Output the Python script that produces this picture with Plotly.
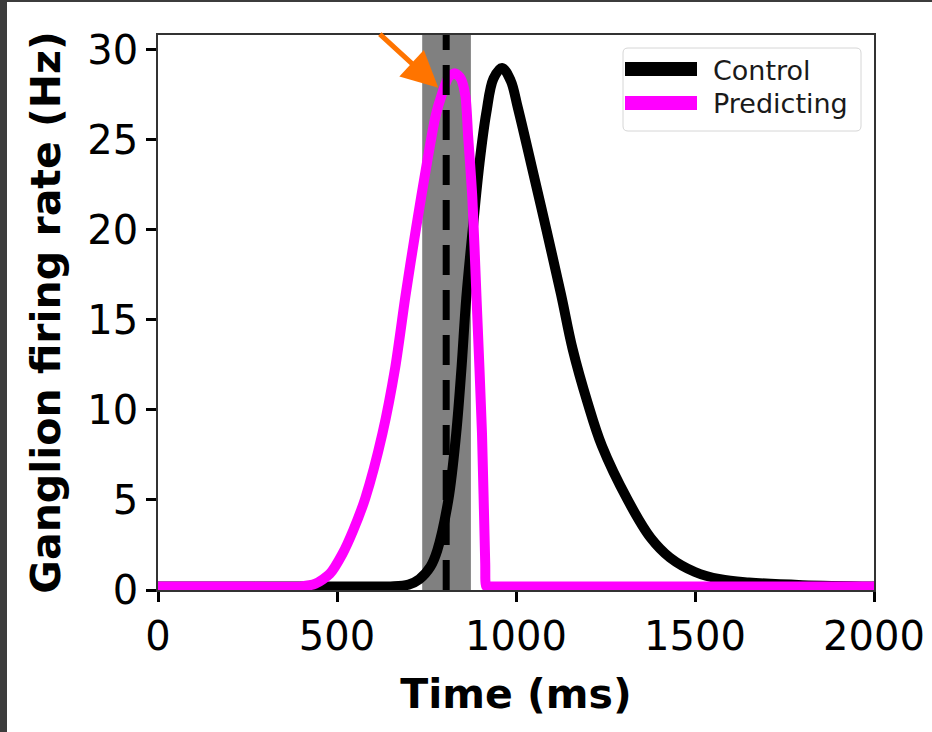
import plotly.graph_objects as go

# ---- data ----
control_t = [0, 300, 600, 650, 700, 730, 761, 780, 811, 833, 848, 861, 879, 898, 917, 937, 961, 985, 1005, 1043, 1085, 1126, 1158, 1200, 1240, 1312, 1376, 1430, 1500, 1570, 1650, 1800, 2000]
control_v = [0.2, 0.2, 0.2, 0.2, 0.3, 0.6, 1.3, 2.2, 5.0, 8.7, 12.4, 16.2, 20.0, 23.7, 26.5, 28.4, 29.0, 28.3, 26.8, 23.6, 20.0, 16.4, 13.4, 10.4, 8.0, 5.0, 2.9, 1.8, 1.0, 0.6, 0.42, 0.27, 0.2]

predict_t = [0, 200, 400, 440, 480, 515, 545, 579, 627, 663, 691, 720, 751, 775, 794, 812, 830, 846, 859, 866, 878, 890, 905, 914, 917, 925, 960, 1200, 1500, 1800, 2000]
predict_v = [0.2, 0.2, 0.2, 0.35, 0.9, 2.0, 3.3, 5.1, 8.7, 12.4, 16.3, 20.0, 23.7, 26.3, 27.6, 28.5, 28.7, 28.4, 27.4, 25.3, 21.8, 16.1, 8.7, 1.5, 0.2, 0.2, 0.2, 0.2, 0.2, 0.2, 0.2]

band_start, band_end = 738, 874
marker_time = 805
arrow_target = (783, 27.9)

x_ticks = [0, 500, 1000, 1500, 2000]
y_ticks = [0, 5, 10, 15, 20, 25, 30]
series_names = ["Control", "Predicting"]
series_colors = ["black", "#ff00ff"]

# ---- layout geometry (pixels) ----
W, H = 932, 732
L, R, T, B = 158, 874, 35, 590
pw, ph = R - L, B - T

def px(xp):
    return (xp - L) / pw

def py(yp):
    return (B - yp) / ph

FONT = "DejaVu Sans"

fig = go.Figure()
fig.add_trace(go.Scatter(x=control_t, y=control_v, mode="lines", name=series_names[0],
                         line=dict(color=series_colors[0], width=10, shape="spline", smoothing=1.0),
                         showlegend=False))
fig.add_trace(go.Scatter(x=predict_t, y=predict_v, mode="lines", name=series_names[1],
                         line=dict(color=series_colors[1], width=10, shape="spline", smoothing=0.7),
                         showlegend=False))

shapes = []
# gray window
shapes.append(dict(type="rect", xref="x", yref="paper", x0=band_start, x1=band_end, y0=0, y1=1,
                   fillcolor="#808080", line=dict(width=0), layer="below"))
# dashed marker
shapes.append(dict(type="line", xref="x", yref="paper", x0=marker_time, x1=marker_time, y0=0, y1=1,
                   line=dict(color="black", width=7, dash="30px,15px"), layer="above"))
# dark frame strips (screenshot border)
shapes.append(dict(type="rect", xref="paper", yref="paper", x0=px(0), x1=px(7), y0=py(H), y1=py(0),
                   fillcolor="#3c3c3c", line=dict(width=0), layer="above"))
shapes.append(dict(type="rect", xref="paper", yref="paper", x0=px(0), x1=px(W), y0=py(2), y1=py(0),
                   fillcolor="#3c3c3c", line=dict(width=0), layer="above"))
# legend box (rounded)
bx0, bx1, by0, by1, rr = 623, 861, 48, 131, 5
def P(xp, yp):
    return f"{px(xp)},{py(yp)}"
path = (f"M {P(bx0+rr, by0)} L {P(bx1-rr, by0)} Q {P(bx1, by0)} {P(bx1, by0+rr)} "
        f"L {P(bx1, by1-rr)} Q {P(bx1, by1)} {P(bx1-rr, by1)} L {P(bx0+rr, by1)} "
        f"Q {P(bx0, by1)} {P(bx0, by1-rr)} L {P(bx0, by0+rr)} Q {P(bx0, by0)} {P(bx0+rr, by0)} Z")
shapes.append(dict(type="path", xref="paper", yref="paper", path=path,
                   fillcolor="rgba(255,255,255,0.85)", line=dict(color="#d6d6d6", width=1), layer="above"))
annotations = []
for i, (nm, col) in enumerate(zip(series_names, series_colors)):
    yc = 69 + 34 * i
    shapes.append(dict(type="line", xref="paper", yref="paper", x0=px(625), x1=px(697), y0=py(yc), y1=py(yc),
                       line=dict(color=col, width=14), layer="above"))
    annotations.append(dict(xref="paper", yref="paper", x=px(711), y=py(yc + 1), text=nm, showarrow=False,
                            xanchor="left", yanchor="middle", font=dict(family=FONT, size=27, color="#1a1a1a")))

# orange arrow
annotations.append(dict(x=arrow_target[0], y=arrow_target[1], xref="x", yref="y", text="",
                        showarrow=True, ax=-60, ay=-55, axref="pixel", ayref="pixel",
                        arrowhead=2, arrowsize=1.45, arrowwidth=5, arrowcolor="#ff7400", standoff=0))

fig.update_layout(
    width=W, height=H,
    margin=dict(l=L, r=W - R, t=T, b=H - B, autoexpand=False),
    paper_bgcolor="white", plot_bgcolor="white",
    font=dict(family=FONT, color="black"),
    shapes=shapes, annotations=annotations, showlegend=False,
)
fig.update_xaxes(range=[0, 2000], tickvals=x_ticks, ticktext=[str(v) for v in x_ticks],
                 showgrid=False, zeroline=False, showline=True, linecolor="#333", linewidth=1.5, mirror=True,
                 ticks="outside", ticklen=10, tickwidth=3, tickcolor="black",
                 tickfont=dict(family=FONT, size=40),
                 title=dict(text="<b>Time (ms)</b>", font=dict(family=FONT, size=41), standoff=22))
fig.update_yaxes(range=[0, 30.83], tickvals=y_ticks, ticktext=[str(v) for v in y_ticks],
                 showgrid=False, zeroline=False, showline=True, linecolor="#333", linewidth=1.5, mirror=True,
                 ticks="outside", ticklen=10, tickwidth=3, tickcolor="black",
                 tickfont=dict(family=FONT, size=40),
                 title=dict(text="<b>Ganglion firing rate (Hz)</b>", font=dict(family=FONT, size=41), standoff=14))

fig.write_html("out.html", config={"displayModeBar": False},
               post_script="document.body.style.margin='0';document.body.style.overflow='hidden';")
